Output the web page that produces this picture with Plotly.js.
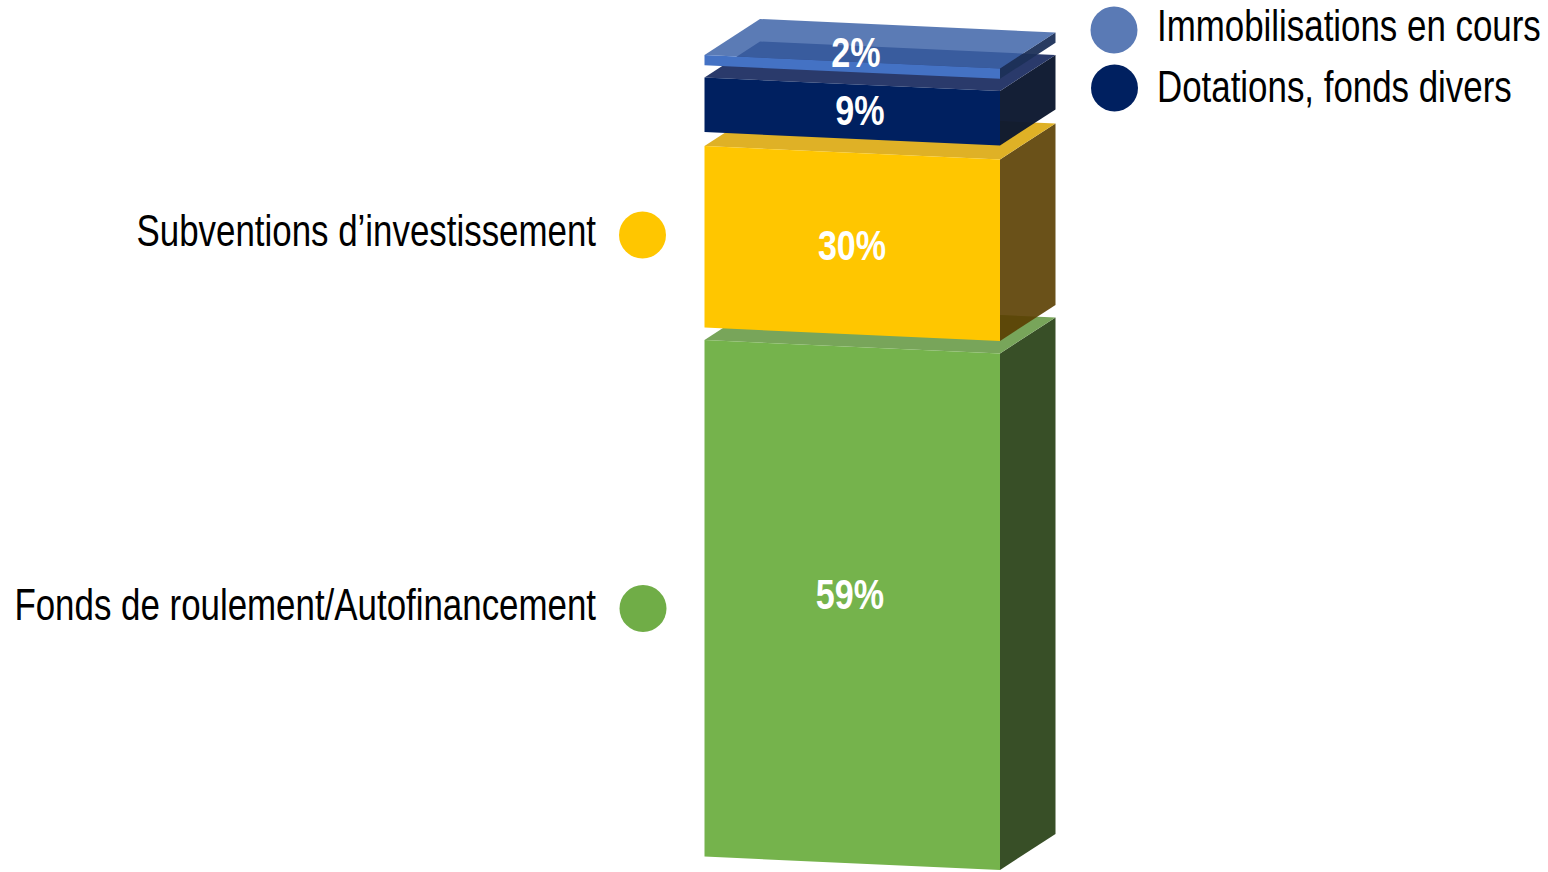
<!DOCTYPE html>
<html><head><meta charset="utf-8">
<script src="https://cdn.plot.ly/plotly-3.0.1.min.js"></script>
<style>html,body{margin:0;padding:0;background:#fff}#c{width:1548px;height:872px}</style>
</head><body><div id="c"></div>
<script>
// Data
const categories = ["Fonds de roulement/Autofinancement","Subventions d’investissement","Dotations, fonds divers","Immobilisations en cours"];
const shares = [59,30,9,2];
const drawnBase = [0,529,724.5,791.2];
const drawnHeight = [516.5,181.5,54.5,10.3];

// Styles
const frontColors = ["#75b34c","#ffc600","#002060","#4472c4"];
const topColors = ["#78a55a","#dfb126","#2a3a6b","rgba(60,98,167,.845)"];
const sideColors = ["#384f27","rgba(90,62,0,.9)","rgba(12,24,48,.97)","rgba(28,48,88,.95)"];
const dotColors = ["#70ad47","#ffc600","#002060","#5a7ab5"];

// Bar geometry in axis units
const barWidth = 295.5, depthX = 55.5, depthY = 36, skew = 13.5;
const pt = (u,d,h) => [u*barWidth + d*depthX, h - u*skew + d*depthY];
function poly(corners, color){
  const p = corners.map(c => pt(c[0],c[1],c[2]));
  p.push(p[0]);
  return {type:"scatter",mode:"lines",x:p.map(a=>a[0]),y:p.map(a=>a[1]),fill:"toself",
    fillcolor:color,line:{width:0},hoverinfo:"skip",showlegend:false};
}
const traces = [];
categories.forEach((name,i)=>{
  const b = drawnBase[i], t = b + drawnHeight[i];
  traces.push(poly([[1,0,b],[1,1,b],[1,1,t],[1,0,t]], sideColors[i]));
  traces.push(poly([[0,0,t],[1,0,t],[1,1,t],[0,1,t]], topColors[i]));
  traces.push(poly([[0,0,b],[1,0,b],[1,0,t],[0,0,t]], frontColors[i]));
});

const labelFont = "Liberation Sans, Arial, sans-serif";
// percent labels
const pctX = [145.5,147.5,155.5,151.5], pctY = [258.5,607.5,742,800.5];
traces.push({type:"scatter",mode:"text",x:pctX,y:pctY,text:shares.map(v=>v+"%"),
  textposition:"middle center",cliponaxis:false,hoverinfo:"skip",showlegend:false,
  textfont:{family:labelFont,size:43,color:"#ffffff",weight:700}});
// dots
const dotX = [-61.5,-62,410,409.5], dotY = [248,621.5,768.5,826.5];
traces.push({type:"scatter",mode:"markers",x:dotX,y:dotY,cliponaxis:false,hoverinfo:"skip",showlegend:false,
  marker:{size:47,color:dotColors,line:{width:0}}});
// category labels
traces.push({type:"scatter",mode:"text",x:[-108.5,-108.5],y:[247.5,621],text:[categories[0],categories[1]],
  textposition:"middle left",cliponaxis:false,hoverinfo:"skip",showlegend:false,
  textfont:{family:labelFont,size:44,color:"#000000"}});
traces.push({type:"scatter",mode:"text",x:[452.5,452.5],y:[765,826.5],text:[categories[2],categories[3]],
  textposition:"middle right",cliponaxis:false,hoverinfo:"skip",showlegend:false,
  textfont:{family:labelFont,size:44,color:"#000000"}});

const layout = {width:1548,height:872,margin:{l:0,r:0,t:0,b:0},paper_bgcolor:"#fff",plot_bgcolor:"#fff",showlegend:false,
  xaxis:{range:[-704.5,843.5],visible:false,fixedrange:true},
  yaxis:{range:[-15.5,856.5],visible:false,fixedrange:true}};
const condense = 0.793; // the reference lettering is a condensed face
Plotly.newPlot("c",traces,layout,{displayModeBar:false,staticPlot:true}).then(gd=>{
  gd.querySelectorAll(".textpoint text").forEach(t=>{
    const x = parseFloat(t.getAttribute("x"));
    t.setAttribute("transform","translate("+(x*(1-condense)).toFixed(2)+",0) scale("+condense+",1)");
  });
});
</script></body></html>
